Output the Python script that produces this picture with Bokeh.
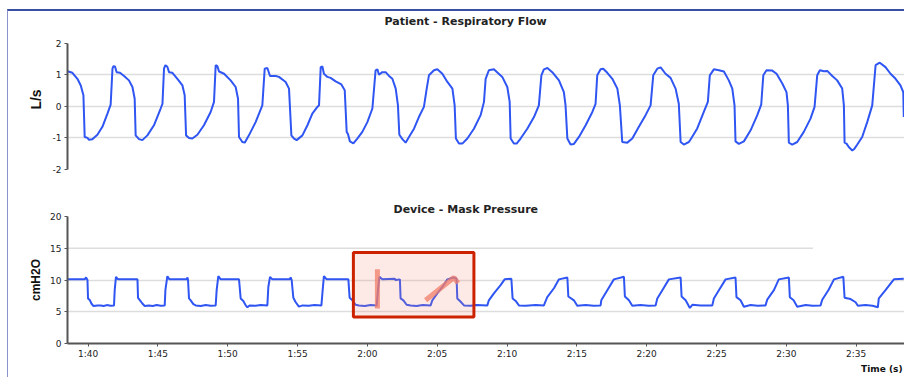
from bokeh.plotting import figure
from bokeh.layouts import column
from bokeh.models import Range1d, FixedTicker, Title, BoxAnnotation
from bokeh.embed import file_html
from bokeh.resources import INLINE

# ---------------- data ----------------
x_start, x_end = 98.53, 158.46
tick_times = [100, 105, 110, 115, 120, 125, 130, 135, 140, 145, 150, 155]
tick_labels = ["1:40", "1:45", "1:50", "1:55", "2:00", "2:05", "2:10", "2:15", "2:20", "2:25", "2:30", "2:35"]

flow_ticks = [-2, -1, 0, 1, 2]
flow_tick_labels = ["-2", "-1", "0", "1", "2"]
pres_ticks = [0, 5, 10, 15, 20]

flow_t = [98.53, 98.88, 99.24, 99.48, 99.67, 99.76, 99.96, 100.07, 100.31, 100.67, 101.03, 101.39, 101.62,
          101.75, 101.82, 101.93, 102.05, 102.29, 102.58, 102.93, 103.18, 103.34, 103.41, 103.65, 103.89,
          104.25, 104.72, 105.2, 105.33, 105.44, 105.54, 105.68, 105.8, 106.04, 106.4, 106.76, 106.92,
          107.02, 107.23, 107.47, 107.83, 108.3, 108.78, 109.02, 109.14, 109.26, 109.38, 109.74, 110.21,
          110.57, 110.74, 110.81, 111.05, 111.22, 111.52, 112.0, 112.48, 112.65, 112.84, 113.03, 113.44,
          113.67, 114.15, 114.39, 114.56, 114.75, 114.94, 115.35, 115.71, 116.06, 116.42, 116.54, 116.66,
          116.78, 116.89, 117.14, 117.37, 117.73, 118.14, 118.38, 118.52, 118.61, 118.75, 119.0, 119.28,
          119.64, 120.0, 120.36, 120.59, 120.72, 120.83, 121.07, 121.31, 121.55, 121.79, 122.03, 122.19,
          122.29, 122.51, 122.74, 122.98, 123.34, 123.69, 124.05, 124.25, 124.41, 124.77, 125.01, 125.37,
          125.73, 126.09, 126.25, 126.34, 126.56, 126.8, 127.16, 127.63, 128.11, 128.35, 128.47, 128.7,
          129.06, 129.31, 129.66, 130.02, 130.19, 130.26, 130.49, 130.69, 130.97, 131.45, 131.93, 132.28,
          132.46, 132.64, 132.89, 133.24, 133.72, 134.07, 134.19, 134.32, 134.55, 134.79, 135.15, 135.63,
          136.11, 136.34, 136.46, 136.7, 136.89, 137.18, 137.54, 137.9, 138.08, 138.25, 138.61, 138.97,
          139.44, 139.92, 140.28, 140.47, 140.76, 141.0, 141.35, 141.71, 142.07, 142.3, 142.43, 142.66,
          143.02, 143.14, 143.62, 144.09, 144.38, 144.52, 144.81, 145.17, 145.53, 145.88, 146.13, 146.29,
          146.36, 146.6, 146.96, 147.44, 147.92, 148.2, 148.35, 148.58, 148.99, 149.3, 149.71, 150.01,
          150.11, 150.18, 150.42, 150.78, 151.25, 151.73, 152.02, 152.21, 152.4, 152.69, 152.93, 153.29,
          153.64, 154.0, 154.12, 154.17, 154.31, 154.47, 154.72, 154.88, 155.08, 155.43, 155.79, 156.15,
          156.39, 156.69, 157.1, 157.46, 157.82, 158.17, 158.37, 158.41]
flow_v = [1.11, 1.06, 0.87, 0.66, 0.35, -0.97, -1.0, -1.06, -1.04, -0.9, -0.65, -0.23, 0.05,
          1.19, 1.27, 1.26, 1.08, 1.06, 0.96, 0.82, 0.61, 0.24, -0.92, -1.04, -1.07,
          -0.92, -0.6, -0.07, 0.08, 1.19, 1.3, 1.25, 1.08, 1.06, 0.87, 0.66, 0.35,
          -0.92, -1.0, -1.02, -0.9, -0.6, -0.18, 0.14, 1.3, 1.27, 1.1, 1.03, 0.82,
          0.61, 0.24, -0.97, -1.13, -1.15, -0.92, -0.5, 0.03, 1.19, 1.21, 0.96, 0.96,
          0.93, 0.77, 0.56, -0.92, -1.02, -1.07, -0.92, -0.6, -0.23, -0.02, 0.03, 1.24,
          1.26, 1.03, 0.93, 0.9, 0.79, 0.69, 0.51, -0.81, -0.88, -1.11, -1.17, -1.02,
          -0.81, -0.5, -0.07, 1.14, 1.17, 1.0, 1.08, 1.08, 0.96, 0.87, 0.56, 0.03,
          -0.9, -1.04, -1.15, -0.97, -0.71, -0.34, -0.02, 0.56, 0.98, 1.14, 1.17, 1.03,
          0.77, 0.56, 0.03, -1.02, -1.18, -1.18, -1.02, -0.71, -0.28, 0.14, 0.87, 1.14,
          1.17, 1.07, 0.93, 0.61, 0.14, -1.02, -1.18, -1.18, -1.02, -0.71, -0.34, 0.03,
          0.98, 1.17, 1.21, 1.08, 0.82, 0.45, 0.03, -1.02, -1.21, -1.19, -0.97, -0.6,
          -0.18, 0.08, 0.98, 1.17, 1.19, 1.06, 0.87, 0.56, 0.03, -1.13, -1.15, -1.02,
          -0.65, -0.28, 0.03, 0.98, 1.19, 1.23, 1.03, 0.9, 0.56, 0.08, -1.13, -1.21,
          -1.13, -1.05, -0.7, -0.18, 0.14, 0.98, 1.17, 1.14, 1.1, 0.82, 0.56, 0.03,
          -1.11, -1.19, -1.11, -0.76, -0.28, 0.05, 0.98, 1.14, 1.13, 1.03, 0.72, 0.45,
          0.03, -1.15, -1.21, -1.13, -0.81, -0.39, -0.02, 0.98, 1.14, 1.11, 1.12, 0.96,
          0.82, 0.56, 0.03, -1.15, -1.18, -1.29, -1.4, -1.34, -1.21, -0.97, -0.5, 0.03,
          1.3, 1.38, 1.24, 1.03, 0.87, 0.66, 0.45, -0.34]

pres_t = [98.53, 99.76, 99.86, 99.96, 100.0, 100.14, 100.24, 100.39, 100.67, 100.91, 101.12, 101.34, 101.62,
          101.86, 101.91, 102.0, 102.15, 103.54, 103.58, 103.72, 103.89, 104.06, 104.35, 104.63, 104.92,
          105.2, 105.49, 105.54, 105.68, 105.83, 107.07, 107.12, 107.16, 107.23, 107.35, 107.54, 107.71,
          108.07, 108.43, 108.78, 109.14, 109.21, 109.33, 109.5, 110.81, 110.93, 111.12, 111.29, 111.41,
          111.57, 112.0, 112.36, 112.84, 112.91, 113.03, 113.2, 114.44, 114.51, 114.58, 114.7, 114.87,
          115.1, 115.37, 115.8, 116.23, 116.71, 116.8, 116.89, 117.09, 118.64, 118.73, 118.93, 119.16,
          119.4, 119.81, 120.24, 120.67, 120.76, 120.86, 121.07, 121.95, 122.03, 122.33, 122.38, 122.58,
          122.81, 123.1, 123.53, 123.96, 124.53, 124.65, 125.01, 125.37, 125.73, 126.16, 126.39, 126.44,
          126.63, 126.92, 127.4, 127.82, 128.59, 128.7, 129.06, 129.54, 129.83, 130.31, 130.4, 130.62,
          130.85, 131.33, 132.05, 132.64, 132.88, 133.36, 133.72, 134.32, 134.39, 134.79, 135.03, 135.63,
          136.2, 136.7, 136.75, 137.18, 137.65, 138.37, 138.44, 138.73, 138.97, 139.56, 140.14, 140.64,
          140.76, 141.12, 141.59, 142.43, 142.5, 142.79, 143.09, 143.27, 143.86, 144.7, 144.81, 145.17,
          145.65, 146.36, 146.43, 146.72, 146.96, 147.44, 147.94, 148.51, 148.63, 149.11, 149.46, 150.18,
          150.25, 150.52, 150.78, 151.38, 151.88, 152.45, 152.57, 153.04, 153.41, 154.08, 154.17, 154.6,
          154.96, 155.12, 155.67, 156.17, 156.55, 156.62, 157.1, 157.7, 158.41]
pres_v = [10.1, 10.1, 10.4, 10.0, 7.1, 6.8, 6.3, 5.9, 6.0, 6.0, 5.9, 6.05, 5.95,
          6.0, 8.4, 10.5, 10.1, 10.1, 7.2, 6.8, 6.3, 5.9, 6.0, 5.9, 6.05,
          5.95, 6.0, 8.4, 10.6, 10.1, 10.1, 10.4, 10.0, 7.1, 6.8, 6.2, 6.0,
          5.9, 6.05, 5.95, 6.0, 8.4, 10.6, 10.1, 10.1, 7.1, 6.7, 6.0, 5.7,
          6.0, 5.95, 6.05, 6.0, 8.9, 10.5, 10.1, 10.1, 10.4, 10.0, 7.2, 6.5,
          5.8, 6.0, 5.95, 6.05, 6.0, 8.4, 10.6, 10.1, 10.1, 7.2, 6.8, 6.1,
          6.0, 5.9, 6.05, 6.0, 8.4, 10.5, 10.1, 10.2, 10.0, 10.1, 7.1, 6.8,
          6.1, 6.0, 5.9, 6.05, 6.0, 6.8, 7.9, 8.9, 10.1, 10.4, 10.2, 7.1,
          6.7, 6.0, 5.95, 6.05, 6.0, 6.8, 7.9, 9.2, 10.1, 10.2, 7.1, 6.7,
          6.0, 5.95, 6.05, 6.0, 7.3, 8.7, 10.1, 10.4, 7.4, 6.8, 5.95, 6.05,
          5.95, 6.0, 6.8, 8.4, 10.1, 10.5, 7.4, 6.8, 5.95, 6.05, 5.95, 6.0,
          7.1, 8.4, 10.1, 10.4, 7.4, 6.8, 5.6, 6.1, 6.0, 6.0, 7.1, 8.4,
          10.1, 10.4, 7.3, 6.8, 5.8, 6.05, 5.95, 6.0, 6.9, 8.4, 10.1, 10.4,
          7.3, 6.8, 5.8, 6.05, 5.95, 6.0, 6.9, 8.5, 10.1, 10.5, 7.2, 7.0,
          6.5, 5.95, 6.05, 5.95, 5.7, 7.1, 8.4, 10.1, 10.2]

# annotation (highlight) values
box_t = [119.0, 127.63]
box_p = [4.16, 14.35]
mark1_t = [120.72, 120.72]
mark1_p = [5.5, 11.7]
mark2_t = [124.17, 126.2, 126.49]
mark2_p = [6.8, 10.4, 9.5]
grid15_end = 151.9

LINE = "#2f55f2"
AXIS = "#555555"
TICKFONT = "DejaVu Sans"


def style_axis(ax):
    ax.axis_line_color = AXIS
    ax.axis_line_width = 2
    ax.major_tick_line_color = AXIS
    ax.major_tick_line_width = 1
    ax.major_tick_out = 3
    ax.major_tick_in = 0
    ax.minor_tick_line_color = None
    ax.major_label_text_font = TICKFONT
    ax.major_label_text_font_size = "9px"
    ax.major_label_text_color = "#222222"
    ax.major_label_standoff = 3


# ---------------- top: flow ----------------
p1 = figure(frame_width=837, frame_height=140, min_border_left=59, min_border_right=0,
            min_border_top=17, min_border_bottom=31,
            x_range=Range1d(x_start, x_end), y_range=Range1d(-2, 2.43),
            x_axis_location=None, output_backend="svg", toolbar_location=None)
p1.add_layout(Title(text="Patient - Respiratory Flow", align="left", offset=317,
                    text_font="DejaVu Sans", text_font_size="11px", text_font_style="bold",
                    text_color="#222222", standoff=3), "above")
p1.outline_line_color = None
p1.xgrid.visible = False
p1.yaxis.ticker = FixedTicker(ticks=flow_ticks)
p1.yaxis.major_label_overrides = {t: s for t, s in zip(flow_ticks, flow_tick_labels)}
p1.yaxis.bounds = (-2, 2)
p1.ygrid.ticker = FixedTicker(ticks=[t for t in flow_ticks if abs(t) < 2])
p1.ygrid.grid_line_color = "#dddddd"
p1.ygrid.grid_line_width = 1.5
style_axis(p1.yaxis[0])
p1.yaxis.axis_label = "L/s"
p1.yaxis.axis_label_text_font = "Liberation Sans"
p1.yaxis.axis_label_text_font_size = "14px"
p1.yaxis.axis_label_text_font_style = "bold"
p1.yaxis.axis_label_text_color = "#111111"
p1.yaxis.axis_label_standoff = 6
p1.line(flow_t, flow_v, line_color=LINE, line_width=2)

# ---------------- bottom: pressure ----------------
p2 = figure(frame_width=837, frame_height=127, min_border_left=59, min_border_right=0,
            min_border_top=15, min_border_bottom=34,
            x_range=Range1d(x_start, x_end), y_range=Range1d(0, 20),
            output_backend="svg", toolbar_location=None)
p2.add_layout(Title(text="Device - Mask Pressure", align="left", offset=326,
                    text_font="DejaVu Sans", text_font_size="11px", text_font_style="bold",
                    text_color="#222222", standoff=1), "above")
p2.outline_line_color = None
p2.xgrid.visible = False
p2.yaxis.ticker = FixedTicker(ticks=pres_ticks)
p2.ygrid.ticker = FixedTicker(ticks=[5, 10])
p2.ygrid.grid_line_color = "#dddddd"
p2.ygrid.grid_line_width = 1.5
p2.segment(x0=[x_start], y0=[15], x1=[grid15_end], y1=[15], line_color="#dddddd", line_width=1.5)
p2.xaxis.ticker = FixedTicker(ticks=tick_times)
p2.xaxis.major_label_overrides = {t: s for t, s in zip(tick_times, tick_labels)}
style_axis(p2.yaxis[0])
style_axis(p2.xaxis[0])
p2.xaxis.major_label_standoff = 2
p2.yaxis.axis_label = "cmH2O"
p2.yaxis.axis_label_text_font = "Liberation Sans"
p2.yaxis.axis_label_text_font_size = "12px"
p2.yaxis.axis_label_text_font_style = "bold"
p2.yaxis.axis_label_text_color = "#111111"
p2.yaxis.axis_label_standoff = 4
p2.line(pres_t, pres_v, line_color=LINE, line_width=2)

box = BoxAnnotation(left=box_t[0], right=box_t[1], bottom=box_p[0], top=box_p[1],
                    fill_color="#f28b7a", fill_alpha=0.18,
                    line_color="#cc2200", line_width=3, line_alpha=1)
p2.add_layout(box)
p2.line(mark1_t, mark1_p, line_color="#f07a66", line_alpha=0.75, line_width=5)
p2.line(mark2_t, mark2_p, line_color="#f07a66", line_alpha=0.75, line_width=5)

p2.add_layout(Title(text="Time (s)", align="right", offset=2, standoff=0,
                    text_font="DejaVu Sans", text_font_size="9px", text_font_style="bold",
                    text_color="#111111"), "below")

layout = column(p1, p2, spacing=0,
                styles={"margin-top": "9px", "margin-left": "7px",
                        "border-top": "2px solid #3a4ea3",
                        "border-left": "1px solid #8a94cc"})

open("out.html", "w").write(file_html(layout, INLINE))
